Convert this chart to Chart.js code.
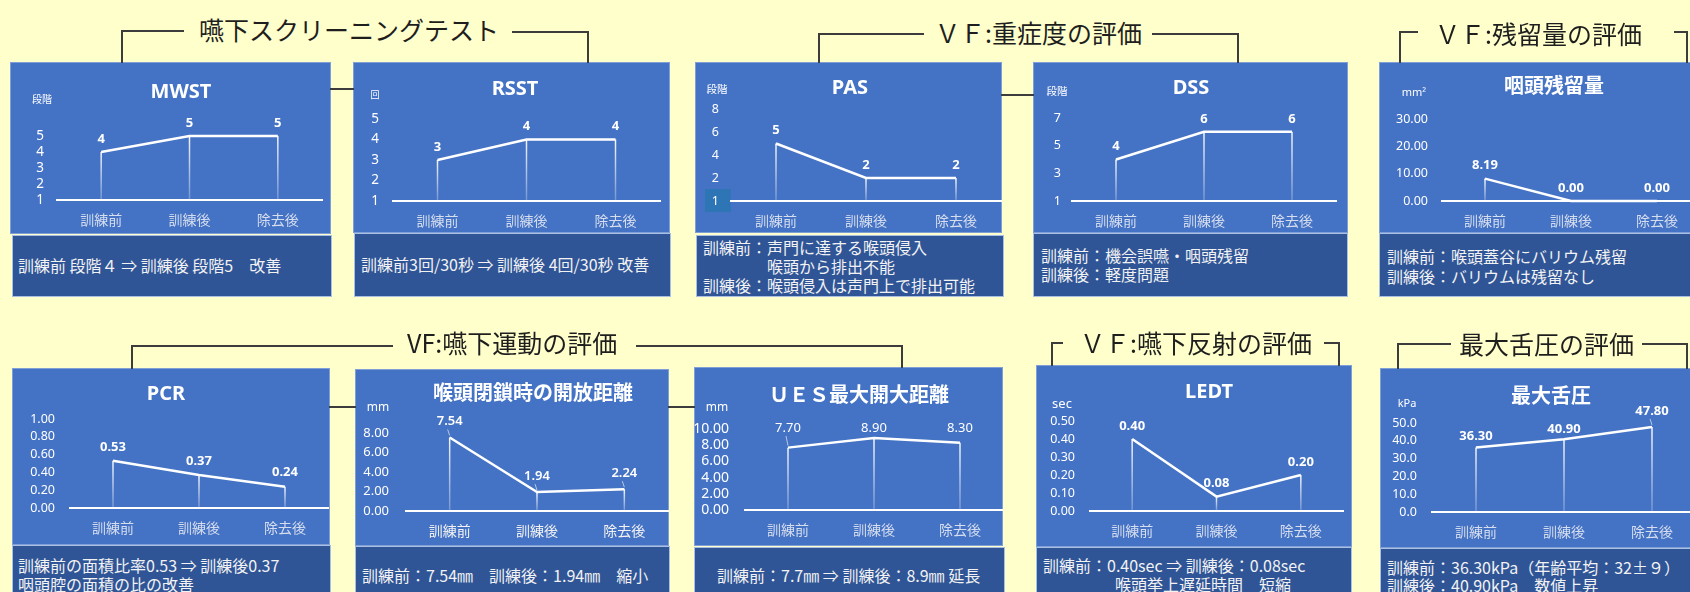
<!DOCTYPE html>
<html lang="ja">
<head>
<meta charset="utf-8">
<script src="https://cdn.jsdelivr.net/npm/chart.js@4"></script>
<style>
  html, body { margin: 0; padding: 0; }
  body { width: 1690px; height: 592px; overflow: hidden; background: #FFFFCC; }
  #page { position: relative; width: 1690px; height: 592px; overflow: hidden; font-family: "Noto Sans CJK JP", sans-serif; }
  .panel { position: absolute; background: #4472C4; box-shadow: inset 0 0 0 1px #7F9FD6; }
  .panel canvas { position: absolute; left: 0; top: 0; }
  .note { position: absolute; background: #2F5597; box-sizing: border-box; border: 1px solid #A9BFE3; }
  .t { position: absolute; white-space: nowrap; line-height: 1; }
  .head { font-size: 25px; color: #1E1E1E; transform: translateY(-50%); }
  .ttl { color: #fff; font-weight: bold; font-size: 20px; transform: translate(-50%, -50%); font-family: "Noto Sans", "Noto Sans CJK JP", sans-serif; }
  .unit { color: #fff; transform: translate(-50%, -50%); font-family: "Noto Sans", "Noto Sans CJK JP", sans-serif; }
  .cap { color: #F2F2F2; font-size: 16px; transform: translateY(-50%); }
  .ln { position: absolute; background: #3C3C3C; }
</style>
</head>
<body>
<div id="page"></div>
<script>
const stages = ["訓練前", "訓練後", "除去後"];

const mwstScores = [4, 5, 5];
const mwstTickValues = [1, 2, 3, 4, 5];
const mwstTickLabels = ["1", "2", "3", "4", "5"];

const rsstCounts = [3, 4, 4];
const rsstTickValues = [1, 2, 3, 4, 5];
const rsstTickLabels = ["1", "2", "3", "4", "5"];

const pasScores = [5, 2, 2];
const pasTickValues = [0, 2, 4, 6, 8];
const pasTickLabels = ["1", "2", "4", "6", "8"];

const dssScores = [4, 6, 6];
const dssTickValues = [1, 3, 5, 7];
const dssTickLabels = ["1", "3", "5", "7"];

const residueArea = [8.19, 0, 0];
const residueTickValues = [0, 10, 20, 30];
const residueTickLabels = ["0.00", "10.00", "20.00", "30.00"];

const pcrRatio = [0.53, 0.37, 0.24];
const pcrTickValues = [0, 0.2, 0.4, 0.6, 0.8, 1.0];
const pcrTickLabels = ["0.00", "0.20", "0.40", "0.60", "0.80", "1.00"];

const closureGap = [7.54, 1.94, 2.24];
const closureTickValues = [0, 2, 4, 6, 8];
const closureTickLabels = ["0.00", "2.00", "4.00", "6.00", "8.00"];

const uesOpening = [7.70, 8.90, 8.30];
const uesTickValues = [0, 2, 4, 6, 8, 10];
const uesTickLabels = ["0.00", "2.00", "4.00", "6.00", "8.00", "10.00"];

const ledtSec = [0.40, 0.08, 0.20];
const ledtTickValues = [0, 0.1, 0.2, 0.3, 0.4, 0.5];
const ledtTickLabels = ["0.00", "0.10", "0.20", "0.30", "0.40", "0.50"];

const tonguePressure = [36.30, 40.90, 47.80];
const tongueTickValues = [0, 10, 20, 30, 40, 50];
const tongueTickLabels = ["0.0", "10.0", "20.0", "30.0", "40.0", "50.0"];

const LATIN = '"Noto Sans", "Noto Sans CJK JP", sans-serif';
Chart.defaults.font.family = LATIN;

// box = panel rect, area = plot rect (left, top, right, bottom) in page pixels
const panels = [
  { title: "MWST", unit: "段階", unitAt: [42, 99], unitSize: 10, titleAt: [181, 91],
    values: mwstScores, tickValues: mwstTickValues, tickLabels: mwstTickLabels, digits: 0,
    box: [10, 62, 331, 234], area: [57, 136, 322, 200], tickPad: 13, tickSize: 13.5,
    note: [12, 235, 332, 297],
    lines: [[18, 265, "訓練前 段階４ ⇒ 訓練後 段階5　改善"]] },
  { title: "RSST", unit: "回", unitAt: [375, 94], unitSize: 9, titleAt: [515, 88],
    values: rsstCounts, tickValues: rsstTickValues, tickLabels: rsstTickLabels, digits: 0,
    box: [353, 62, 670, 233], area: [393, 119, 660, 201], tickPad: 14, tickSize: 13.5,
    note: [354, 233, 671, 297],
    lines: [[361, 264, "訓練前3回/30秒 ⇒ 訓練後 4回/30秒 改善"]] },
  { title: "PAS", unit: "段階", unitAt: [717, 89], unitSize: 10.5, titleAt: [850, 87],
    values: pasScores, tickValues: pasTickValues, tickLabels: pasTickLabels, digits: 0,
    box: [695, 62, 1002, 233], area: [731, 109, 1001, 201], tickPad: 12, tickSize: 12.5,
    patch: [705, 189, 731, 212],
    note: [696, 235, 1004, 297],
    lines: [[703, 247, "訓練前：声門に達する喉頭侵入"], [703, 266, "　　　　喉頭から排出不能"],
            [703, 285, "訓練後：喉頭侵入は声門上で排出可能"]] },
  { title: "DSS", unit: "段階", unitAt: [1057, 91], unitSize: 10.5, titleAt: [1191, 87],
    values: dssScores, tickValues: dssTickValues, tickLabels: dssTickLabels, digits: 0,
    box: [1033, 62, 1348, 233], area: [1072, 118, 1336, 201], tickPad: 11, tickSize: 12.5,
    note: [1033, 233, 1348, 297],
    lines: [[1041, 255, "訓練前：機会誤嚥・咽頭残留"], [1041, 274, "訓練後：軽度問題"]] },
  { title: "咽頭残留量", unit: "mm²", unitAt: [1414, 91], unitSize: 11, titleAt: [1554, 86],
    values: residueArea, tickValues: residueTickValues, tickLabels: residueTickLabels, digits: 2,
    box: [1379, 62, 1705, 233], area: [1442, 119, 1700, 201], tickPad: 14, tickSize: 12.5,
    note: [1379, 233, 1705, 297],
    lines: [[1387, 256, "訓練前：喉頭蓋谷にバリウム残留"], [1387, 276, "訓練後：バリウムは残留なし"]] },
  { title: "PCR", titleAt: [166, 393],
    values: pcrRatio, tickValues: pcrTickValues, tickLabels: pcrTickLabels, digits: 2,
    box: [12, 368, 330, 545], area: [70, 419, 328, 508], tickPad: 15, tickSize: 12.5, rise: 14,
    note: [12, 545, 331, 600],
    lines: [[18, 565, "訓練前の面積比率0.53 ⇒ 訓練後0.37"], [18, 584, "咽頭腔の面積の比の改善"]] },
  { title: "喉頭閉鎖時の開放距離", unit: "mm", unitAt: [378, 407], unitSize: 12, titleAt: [533, 393],
    values: closureGap, tickValues: closureTickValues, tickLabels: closureTickLabels, digits: 2,
    box: [355, 369, 669, 546], area: [406, 433, 668, 511], tickPad: 17, tickSize: 13,
    rise: 16, weight: "600", catColor: "#F2F2F2",
    note: [355, 546, 670, 600],
    lines: [[362, 575, "訓練前：7.54㎜　訓練後：1.94㎜　縮小"]] },
  { title: "ＵＥＳ最大開大距離", unit: "mm", unitAt: [717, 407], unitSize: 12, titleAt: [859, 395],
    values: uesOpening, tickValues: uesTickValues, tickLabels: uesTickLabels, digits: 2,
    box: [694, 367, 1003, 546], area: [745, 429, 1003, 510], tickPad: 16, tickSize: 14,
    pinTop: true, weight: "normal",
    note: [694, 547, 1005, 600],
    lines: [[717, 575, "訓練前：7.7㎜ ⇒ 訓練後：8.9㎜ 延長"]] },
  { title: "LEDT", unit: "sec", unitAt: [1062, 403], unitSize: 13, titleAt: [1209, 391],
    values: ledtSec, tickValues: ledtTickValues, tickLabels: ledtTickLabels, digits: 2,
    box: [1036, 365, 1352, 547], area: [1090, 421, 1343, 511], tickPad: 15, tickSize: 12.5,
    note: [1036, 547, 1352, 600],
    lines: [[1043, 565, "訓練前：0.40sec ⇒ 訓練後：0.08sec"], [1115, 584, "喉頭挙上遅延時間　短縮"]] },
  { title: "最大舌圧", unit: "kPa", unitAt: [1407, 402], unitSize: 11, titleAt: [1551, 396],
    values: tonguePressure, tickValues: tongueTickValues, tickLabels: tongueTickLabels, digits: 2,
    box: [1380, 368, 1705, 548], area: [1432, 423, 1696, 512], tickPad: 15, tickSize: 12.5,
    rise: [11, 10, 16],
    note: [1380, 548, 1705, 600],
    lines: [[1387, 567, "訓練前：36.30kPa（年齢平均：32±９）"], [1387, 585, "訓練後：40.90kPa　数値上昇"]] }
];

const page = document.getElementById("page");

function put(cls, x, y, text, css) {
  const el = document.createElement("div");
  el.className = cls;
  el.style.left = x + "px";
  el.style.top = y + "px";
  if (text) el.textContent = text;
  if (css) Object.assign(el.style, css);
  page.appendChild(el);
  return el;
}

function rect(cls, r, parent) {
  const el = document.createElement("div");
  el.className = cls;
  el.style.left = r[0] + "px";
  el.style.top = r[1] + "px";
  el.style.width = (r[2] - r[0]) + "px";
  el.style.height = (r[3] - r[1]) + "px";
  (parent || page).appendChild(el);
  return el;
}

// connector / bracket segment, 2px thick
function rule(x1, y1, x2, y2) {
  rect("ln", [Math.min(x1, x2) - 1, Math.min(y1, y2) - 1, Math.max(x1, x2) + 1, Math.max(y1, y2) + 1]);
}

// faded stems from each point down to the axis, plus the value labels
const stemPlugin = {
  id: "stems",
  beforeDatasetsDraw(chart) {
    const { ctx, chartArea } = chart;
    ctx.save();
    chart.getDatasetMeta(0).data.forEach(pt => {
      if (chartArea.bottom - pt.y < 1) return;
      const g = ctx.createLinearGradient(0, pt.y, 0, chartArea.bottom);
      g.addColorStop(0, "rgba(255,255,255,0.95)");
      g.addColorStop(1, "rgba(255,255,255,0.25)");
      ctx.strokeStyle = g;
      ctx.lineWidth = 1.5;
      ctx.beginPath();
      ctx.moveTo(pt.x, pt.y);
      ctx.lineTo(pt.x, chartArea.bottom);
      ctx.stroke();
    });
    ctx.restore();
  },
  afterDatasetsDraw(chart, args, opts) {
    const { ctx, chartArea } = chart;
    const values = chart.data.datasets[0].data;
    ctx.save();
    ctx.font = `${opts.weight} 13px ${LATIN}`;
    ctx.fillStyle = "#fff";
    ctx.textAlign = "center";
    ctx.textBaseline = "middle";
    chart.getDatasetMeta(0).data.forEach((pt, i) => {
      const rise = Array.isArray(opts.rise) ? opts.rise[i] : opts.rise;
      const y = opts.pinTop ? chartArea.top - 1 : pt.y - rise;
      if (pt.y - y > 15) {
        ctx.strokeStyle = "rgba(235,235,235,0.7)";
        ctx.lineWidth = 1;
        ctx.beginPath();
        ctx.moveTo(pt.x - 2, y + 8);
        ctx.lineTo(pt.x, pt.y - 2);
        ctx.stroke();
      }
      ctx.fillText(values[i].toFixed(opts.digits), pt.x, y);
    });
    ctx.restore();
  }
};

panels.forEach(p => {
  const [bx, by, br, bb] = p.box;
  const [ax, ay, ar, ab] = p.area;
  const panel = rect("panel", p.box);
  if (p.patch) {
    rect("", [p.patch[0] - bx, p.patch[1] - by, p.patch[2] - bx, p.patch[3] - by], panel)
      .style.cssText += "position:absolute;background:#2E75B6;";
  }
  const canvas = document.createElement("canvas");
  canvas.width = br - bx;
  canvas.height = bb - by;
  panel.appendChild(canvas);

  new Chart(canvas, {
    type: "line",
    data: {
      labels: stages,
      datasets: [{
        data: p.values,
        borderColor: "#FFFFFF",
        borderWidth: 2.5,
        pointRadius: 0,
        tension: 0,
        clip: false
      }]
    },
    options: {
      responsive: false,
      animation: false,
      devicePixelRatio: 1,
      layout: { padding: { left: 0, top: ay - by, right: br - ar, bottom: 0 } },
      plugins: {
        legend: { display: false },
        tooltip: { enabled: false },
        stems: { digits: p.digits, rise: p.rise || 13, pinTop: !!p.pinTop, weight: p.weight || "bold" }
      },
      scales: {
        x: {
          type: "category",
          offset: true,
          grid: { display: false, drawTicks: false },
          border: { color: "#FFFFFF", width: 2 },
          ticks: { color: p.catColor || "#D5DDEE", font: { size: 14 }, padding: 13 },
          afterFit: s => { s.height = bb - ab; }
        },
        y: {
          min: p.tickValues[0],
          max: p.tickValues[p.tickValues.length - 1],
          grid: { display: false, drawTicks: false },
          border: { display: false },
          afterBuildTicks: s => { s.ticks = p.tickValues.map(v => ({ value: v })); },
          ticks: {
            autoSkip: false,
            color: "#FFFFFF",
            font: { size: p.tickSize },
            padding: p.tickPad,
            callback: (v, i) => p.tickLabels[i]
          },
          afterFit: s => { s.width = ax - bx; }
        }
      }
    },
    plugins: [stemPlugin]
  });

  put("t ttl", p.titleAt[0], p.titleAt[1], p.title);
  if (p.unit) put("t unit", p.unitAt[0], p.unitAt[1], p.unit, { fontSize: p.unitSize + "px" });

  rect("note", p.note);
  p.lines.forEach(([x, y, s]) => put("t cap", x, y, s));
});

// section headings with their bracket lines
put("t head", 199, 29, "嚥下スクリーニングテスト");
rule(122, 31, 183, 31); rule(122, 31, 122, 62);
rule(513, 32, 588, 32); rule(588, 32, 588, 62);

put("t head", 935, 32, "ＶＦ:重症度の評価");
rule(819, 34, 923, 34); rule(819, 34, 819, 62);
rule(1153, 34, 1238, 34); rule(1238, 34, 1238, 62);

put("t head", 1435, 33, "ＶＦ:残留量の評価");
rule(1400, 32, 1417, 32); rule(1400, 32, 1400, 62);
rule(1675, 32, 1687, 32); rule(1687, 32, 1687, 62);

put("t head", 407, 342, "VF:嚥下運動の評価");
rule(132, 346, 392, 346); rule(132, 346, 132, 368);
rule(637, 346, 902, 346); rule(902, 346, 902, 367);

put("t head", 1080, 342, "ＶＦ:嚥下反射の評価");
rule(1052, 343, 1062, 343); rule(1052, 343, 1052, 365);
rule(1325, 343, 1339, 343); rule(1339, 343, 1339, 365);

put("t head", 1459, 343, "最大舌圧の評価");
rule(1398, 344, 1450, 344); rule(1398, 344, 1398, 368);
rule(1643, 344, 1687, 344); rule(1687, 344, 1687, 368);

// links between neighbouring panels
rule(331, 89, 353, 89);
rule(1002, 95, 1033, 95);
rule(330, 407, 355, 407);
rule(669, 407, 694, 407);
</script>
</body>
</html>
